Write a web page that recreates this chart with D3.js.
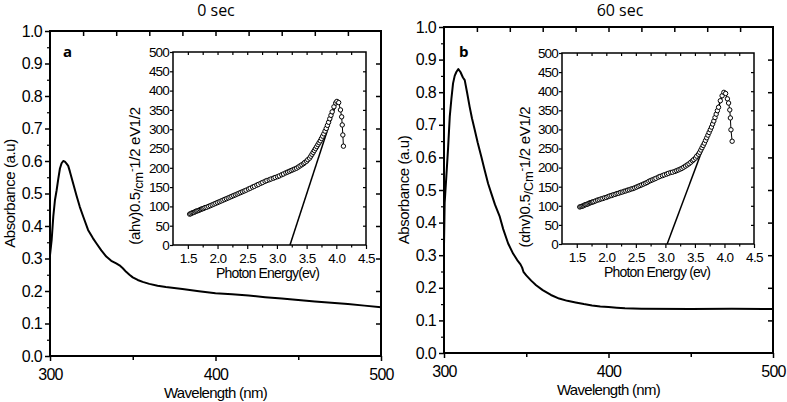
<!DOCTYPE html>
<html><head><meta charset="utf-8">
<script src="https://cdn.jsdelivr.net/npm/d3@7"></script>
<style>
body{margin:0;background:#fff;}
svg{display:block;}
text{font-family:"Liberation Sans",Arial,sans-serif;fill:#000;}
</style></head>
<body><svg id="c" width="787" height="402"></svg>
<script>
// ---------- DATA ----------
const panelTitles = ["0 sec", "60 sec"];
const panelLetters = ["a", "b"];
const mainXTicks = [300, 400, 500];
const mainYTicks = [0.0,0.1,0.2,0.3,0.4,0.5,0.6,0.7,0.8,0.9,1.0];
const insetXTicks = [1.5,2.0,2.5,3.0,3.5,4.0,4.5];
const insetYTicks = [0,50,100,150,200,250,300,350,400,450,500];

// Panel a main spectrum
const wlA  = [300,301,302,303,304,305,306,307,308,309,310,311,312,314,316,318,320,323,326,328,331,334,337,340,342,344,346,348,350,353,356,360,365,370,375,380,390,400,410,420,430,440,450,460,470,480,490,500];
const absA = [0.31,0.357,0.43,0.48,0.51,0.545,0.577,0.593,0.600,0.598,0.592,0.585,0.568,0.531,0.494,0.459,0.43,0.388,0.362,0.347,0.325,0.306,0.293,0.285,0.279,0.27,0.259,0.25,0.242,0.234,0.228,0.222,0.216,0.212,0.209,0.206,0.199,0.193,0.19,0.186,0.181,0.177,0.172,0.168,0.164,0.16,0.155,0.15];
// Panel b main spectrum
const wlB  = [300,300.4,301.4,302.5,303.5,304.5,305.5,306.5,307.5,308.7,310,311.5,312.6,314,315.6,317,318.7,320.5,322.7,324.5,326.8,328.8,331,333.9,336,339,342,344.5,346.5,347.5,348.3,350,353,356,360,365,370,375,380,385,390,395,400,405,410,420,450,475,500];
const absB = [0.33,0.46,0.54,0.63,0.725,0.78,0.827,0.85,0.862,0.871,0.862,0.845,0.837,0.80,0.755,0.72,0.684,0.645,0.602,0.565,0.52,0.489,0.455,0.418,0.38,0.336,0.305,0.285,0.272,0.262,0.249,0.238,0.222,0.208,0.193,0.178,0.167,0.16,0.155,0.15,0.146,0.143,0.141,0.139,0.137,0.136,0.135,0.136,0.135];

// Inset a (Tauc plot)
const eA = [1.53,1.55,1.57,1.59,1.61,1.63,1.65,1.67,1.69,1.71,1.73,1.75,1.77,1.79,1.82,1.85,1.88,1.91,1.94,1.97,2.00,2.03,2.06,2.09,2.12,2.15,2.18,2.21,2.24,2.27,2.30,2.33,2.36,2.39,2.42,2.45,2.48,2.52,2.55,2.59,2.62,2.66,2.69,2.73,2.76,2.80,2.83,2.87,2.90,2.94,2.97,3.01,3.04,3.08,3.11,3.15,3.18,3.21,3.24,3.27,3.30,3.33,3.36,3.39,3.42,3.45,3.47,3.50,3.52,3.55,3.57,3.59,3.61,3.63,3.65,3.67,3.69,3.71,3.73,3.75,3.77,3.79,3.81,3.83,3.85,3.87,3.89,3.91,3.93,3.96,3.99,4.01,4.04,4.07,4.09,4.10,4.11,4.12];
const tA = [80,81,83,84,85,87,88,89,90,92,93,94,95,97,98,100,102,104,106,108,110,112,114,116,118,120,122,124,126,128,130,132,134,136,138,140,142,145,147,150,152,155,157,160,162,165,167,169,171,173,175,177,179,182,184,187,189,191,193,195,197,199,202,205,208,211,214,217,221,225,230,235,240,245,250,255,260,265,270,276,282,288,295,302,310,318,327,336,345,358,368,372,369,350,332,311,285,256];
const fitAE = [3.22, 4.00];
const fitAT = [0, 368];
// Inset b
const eB = [1.55,1.57,1.59,1.61,1.63,1.65,1.67,1.69,1.71,1.73,1.75,1.77,1.79,1.82,1.85,1.88,1.91,1.94,1.97,2.00,2.03,2.06,2.09,2.12,2.15,2.18,2.21,2.24,2.27,2.30,2.33,2.36,2.39,2.42,2.45,2.48,2.51,2.54,2.57,2.60,2.63,2.66,2.69,2.72,2.75,2.78,2.81,2.84,2.88,2.91,2.95,2.98,3.02,3.05,3.09,3.12,3.16,3.19,3.22,3.25,3.28,3.31,3.34,3.37,3.40,3.43,3.46,3.48,3.51,3.53,3.56,3.58,3.60,3.62,3.64,3.66,3.68,3.70,3.72,3.74,3.76,3.78,3.80,3.82,3.84,3.86,3.88,3.90,3.93,3.96,3.99,4.02,4.05,4.07,4.09,4.10,4.11,4.13];
const tB = [97,98,99,100,102,103,104,105,107,108,109,110,111,113,115,116,118,119,121,122,124,126,127,129,130,132,133,135,136,138,139,141,142,144,145,147,149,151,153,155,157,159,161,164,166,168,170,172,175,177,179,181,183,185,187,188,190,192,194,196,198,201,204,207,210,214,218,221,225,230,235,240,246,252,258,264,271,278,285,292,299,306,314,322,331,340,349,358,375,388,397,394,380,369,351,330,299,269];
const fitBE = [3.03, 3.99];
const fitBT = [0, 397];

// ---------- LAYOUT ----------
const svg = d3.select("#c");
const panels = [
  {main:{l:50,r:381,t:31,b:356}, inset:{l:173,r:366,t:52,b:245}, wl:wlA, ab:absA, e:eA, t:tA, fe:fitAE, ft:fitAT,
   title:{x:216,y:16}, letter:{x:63,y:57}, ylab:{x:15}, ilab:{x:140,y:176}, ixlab:"Photon Energy(ev)",
   ilabParts:["(ahv)0.5","/cm","-","1/2 eV1/2"]},
  {main:{l:444,r:773,t:27,b:353}, inset:{l:562,r:754,t:53,b:244}, wl:wlB, ab:absB, e:eB, t:tB, fe:fitBE, ft:fitBT,
   title:{x:620,y:16}, letter:{x:459,y:57}, ylab:{x:409}, ilab:{x:530,y:177}, ixlab:"Photon Energy (ev)",
   ilabParts:["(\u03B1hv)0.5","/Cm","-","1/2 eV1/2"]}
];

function styleAxis(g, w){
  g.select(".domain").remove();
  g.selectAll(".tick line").attr("stroke","#000").attr("stroke-width",w);
}

panels.forEach((p,i)=>{
  const m = p.main;
  const x = d3.scaleLinear().domain([300,500]).range([m.l,m.r]);
  const y = d3.scaleLinear().domain([0,1]).range([m.b,m.t]);
  const g = svg.append("g");

  g.append("text").attr("x",p.title.x).attr("y",p.title.y).attr("text-anchor","middle")
    .style("font-family","'Open Sans',sans-serif").style("font-size","16px").text(panelTitles[i]);

  const bx = g.append("g").attr("transform",`translate(0,${m.b})`)
    .call(d3.axisBottom(x).tickValues([350,450]).tickSize(4).tickFormat(""));
  styleAxis(bx,1.5);
  const bxM = g.append("g").attr("transform",`translate(0,${m.b})`)
    .call(d3.axisBottom(x).tickValues(mainXTicks).tickSize(5).tickPadding(8).tickFormat(d3.format("d")));
  styleAxis(bxM,1.5);
  bxM.selectAll("text").style("font-size","16px").style("letter-spacing","-0.7px").attr("fill","#000");

  const tx = g.append("g").attr("transform",`translate(0,${m.t})`)
    .call(d3.axisTop(x).tickValues(d3.range(320,500,20)).tickSize(-5).tickFormat(""));
  styleAxis(tx,1.5);

  const ly = g.append("g").attr("transform",`translate(${m.l},0)`)
    .call(d3.axisLeft(y).tickValues(mainYTicks).tickSize(5).tickPadding(3).tickFormat(d3.format(".1f")));
  styleAxis(ly,1.5);
  ly.selectAll("text").style("font-size","16px").style("letter-spacing","-0.7px").attr("fill","#000");
  const lyMinor = g.append("g").attr("transform",`translate(${m.l},0)`)
    .call(d3.axisLeft(y).tickValues(d3.range(0.05,1,0.1)).tickSize(3).tickFormat(""));
  styleAxis(lyMinor,1.2);

  const ry = g.append("g").attr("transform",`translate(${m.r},0)`)
    .call(d3.axisRight(y).tickValues(d3.range(0.1,1,0.1)).tickSize(-5).tickFormat(""));
  styleAxis(ry,1.5);

  g.append("rect").attr("x",m.l).attr("y",m.t).attr("width",m.r-m.l).attr("height",m.b-m.t)
    .attr("fill","none").attr("stroke","#000").attr("stroke-width",2);

  g.append("text").attr("x",(m.l+m.r)/2).attr("y",m.b+42).attr("text-anchor","middle")
    .style("font-size","15px").style("letter-spacing","-0.7px").text("Wavelength (nm)");
  g.append("text").attr("transform",`translate(${p.ylab.x},${(m.t+m.b)/2}) rotate(-90)`).attr("text-anchor","middle")
    .style("font-size","15px").style("letter-spacing","-0.4px").text("Absorbance (a.u)");

  g.append("text").attr("x",p.letter.x).attr("y",p.letter.y).style("font-size","15px").style("font-weight","bold")
    .style("font-family","'Open Sans',sans-serif").text(panelLetters[i]);

  const line = d3.line().x((d,k)=>x(p.wl[k])).y((d,k)=>y(p.ab[k]));
  g.append("path").datum(p.wl).attr("d",line).attr("fill","none").attr("stroke","#000").attr("stroke-width",2)
    .attr("stroke-linejoin","round");

  // ---------- inset ----------
  const n = p.inset;
  const ix = d3.scaleLinear().domain([1.25,4.5]).range([n.l,n.r]);
  const iy = d3.scaleLinear().domain([0,500]).range([n.b,n.t]);
  const ig = g.append("g");
  ig.append("rect").attr("x",n.l).attr("y",n.t).attr("width",n.r-n.l).attr("height",n.b-n.t).attr("fill","#fff");

  const ibx = ig.append("g").attr("transform",`translate(0,${n.b})`)
    .call(d3.axisBottom(ix).tickValues(insetXTicks).tickSize(4).tickPadding(4).tickFormat(d3.format(".1f")));
  styleAxis(ibx,1.2);
  ibx.selectAll("text").style("font-size","13.5px").style("letter-spacing","-0.6px").attr("fill","#000");
  const ibxm = ig.append("g").attr("transform",`translate(0,${n.b})`)
    .call(d3.axisBottom(ix).tickValues(d3.range(1.75,4.5,0.5)).tickSize(2.5).tickFormat(""));
  styleAxis(ibxm,1.2);
  const itx = ig.append("g").attr("transform",`translate(0,${n.t})`)
    .call(d3.axisTop(ix).tickValues(d3.range(1.5,4.5,0.25)).tickSize(-3).tickFormat(""));
  styleAxis(itx,1.2);
  const ily = ig.append("g").attr("transform",`translate(${n.l},0)`)
    .call(d3.axisLeft(iy).tickValues(insetYTicks).tickSize(3).tickPadding(1).tickFormat(d3.format("d")));
  styleAxis(ily,1.2);
  ily.selectAll("text").style("font-size","13.5px").style("letter-spacing","-0.8px").attr("fill","#000");
  const iry = ig.append("g").attr("transform",`translate(${n.r},0)`)
    .call(d3.axisRight(iy).tickValues(d3.range(50,500,50)).tickSize(-3).tickFormat(""));
  styleAxis(iry,1.2);
  ig.append("rect").attr("x",n.l).attr("y",n.t).attr("width",n.r-n.l).attr("height",n.b-n.t)
    .attr("fill","none").attr("stroke","#000").attr("stroke-width",1.5);

  ig.append("text").attr("x",(n.l+n.r)/2+ (i===0?-2:-1)).attr("y",n.b+33).attr("text-anchor","middle")
    .style("font-size","14px").style("letter-spacing","-0.8px").text(p.ixlab);

  const yl = ig.append("text").attr("transform",`translate(${p.ilab.x},${p.ilab.y}) rotate(-90)`)
    .attr("text-anchor","middle").style("font-size","15px").style("letter-spacing","-0.3px");
  yl.append("tspan").text(p.ilabParts[0]);
  yl.append("tspan").attr("dy",3).style("font-size","13px").text(p.ilabParts[1]);
  yl.append("tspan").attr("dy",-8).style("font-size","11px").text(p.ilabParts[2]);
  yl.append("tspan").attr("dy",5).text(p.ilabParts[3]);

  const fl = d3.line().x((d,k)=>ix(p.fe[k])).y((d,k)=>iy(p.ft[k]));
  ig.append("path").datum(p.fe).attr("d",fl).attr("fill","none").attr("stroke","#000").attr("stroke-width",1.5);

  const dl = d3.line().x((d,k)=>ix(p.e[k])).y((d,k)=>iy(p.t[k]));
  ig.append("path").datum(p.e).attr("d",dl).attr("fill","none").attr("stroke","#000").attr("stroke-width",1);
  ig.selectAll("circle.pt").data(p.e).enter().append("circle").attr("class","pt")
    .attr("cx",(d)=>ix(d)).attr("cy",(d,k)=>iy(p.t[k])).attr("r",2.2)
    .attr("fill","#fff").attr("stroke","#000").attr("stroke-width",1);
});
</script></body></html>
